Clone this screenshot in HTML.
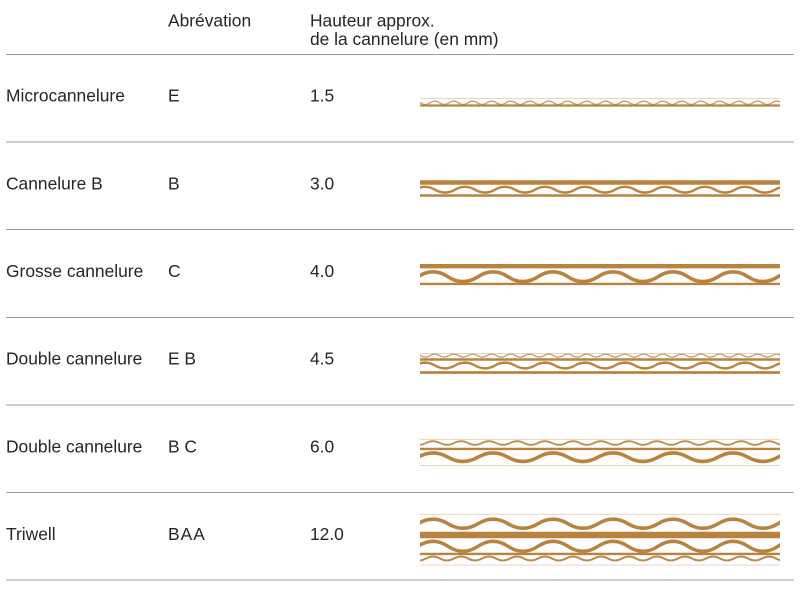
<!DOCTYPE html>
<html>
<head>
<meta charset="utf-8">
<style>
html,body{margin:0;padding:0;background:#fff;}
svg{display:block;}
text{font-family:"Liberation Sans",Arial,sans-serif;font-size:17.4px;fill:#262626;}
</style>
</head>
<body>
<svg width="800" height="600" viewBox="0 0 800 600" xmlns="http://www.w3.org/2000/svg">
<defs>
<clipPath id="cl"><rect x="420" y="0" width="360" height="600"/></clipPath>
</defs>

<!-- header text -->
<text x="168" y="26.7">Abrévation</text>
<text x="310" y="26.7">Hauteur approx.</text>
<text x="310" y="45">de la cannelure (en mm)</text>

<!-- rules -->
<g stroke="#9d9d9d" stroke-width="1">
<line x1="6" y1="54.5" x2="794" y2="54.5"/>
<line x1="6" y1="142" x2="794" y2="142"/>
<line x1="6" y1="229.5" x2="794" y2="229.5"/>
<line x1="6" y1="317.5" x2="794" y2="317.5"/>
<line x1="6" y1="405" x2="794" y2="405"/>
<line x1="6" y1="492.5" x2="794" y2="492.5"/>
<line x1="6" y1="580" x2="794" y2="580"/>
</g>

<!-- row text -->
<text x="6" y="101.7">Microcannelure</text>
<text x="168" y="101.7">E</text>
<text x="310" y="101.7">1.5</text>

<text x="6" y="189.4">Cannelure B</text>
<text x="168" y="189.4">B</text>
<text x="310" y="189.4">3.0</text>

<text x="6" y="277">Grosse cannelure</text>
<text x="168" y="277">C</text>
<text x="310" y="277">4.0</text>

<text x="6" y="364.7">Double cannelure</text>
<text x="168" y="364.7">E B</text>
<text x="310" y="364.7">4.5</text>

<text x="6" y="452.4">Double cannelure</text>
<text x="168" y="452.4">B C</text>
<text x="310" y="452.4">6.0</text>

<text x="6" y="540">Triwell</text>
<text x="168" y="540" letter-spacing="1">BAA</text>
<text x="310" y="540">12.0</text>

<!-- corrugations -->
<g clip-path="url(#cl)" fill="none">
  <!-- E row -->
  <line x1="420" y1="98.5" x2="780" y2="98.5" stroke="#e8d6bf" stroke-width="1"/>
  <path d="M411 102.8 q4.75 -3.4 9.5 0 t9.5 0 t9.5 0 t9.5 0 t9.5 0 t9.5 0 t9.5 0 t9.5 0 t9.5 0 t9.5 0 t9.5 0 t9.5 0 t9.5 0 t9.5 0 t9.5 0 t9.5 0 t9.5 0 t9.5 0 t9.5 0 t9.5 0 t9.5 0 t9.5 0 t9.5 0 t9.5 0 t9.5 0 t9.5 0 t9.5 0 t9.5 0 t9.5 0 t9.5 0 t9.5 0 t9.5 0 t9.5 0 t9.5 0 t9.5 0 t9.5 0 t9.5 0 t9.5 0 t9.5 0 t9.5 0" stroke="#c49d70" stroke-width="1.3"/>
  <line x1="420" y1="105.5" x2="780" y2="105.5" stroke="#b9833f" stroke-width="2.3"/>

  <!-- B row -->
  <line x1="420" y1="182.5" x2="780" y2="182.5" stroke="#b9833f" stroke-width="4.6"/>
  <path d="M375 189.7 q10 -5.8 20 0 t20 0 t20 0 t20 0 t20 0 t20 0 t20 0 t20 0 t20 0 t20 0 t20 0 t20 0 t20 0 t20 0 t20 0 t20 0 t20 0 t20 0 t20 0 t20 0 t20 0 t20 0" stroke="#b9833f" stroke-width="2.4"/>
  <line x1="420" y1="195.5" x2="780" y2="195.5" stroke="#b9833f" stroke-width="2.4"/>

  <!-- C row -->
  <line x1="420" y1="266.2" x2="780" y2="266.2" stroke="#b9833f" stroke-width="4.4"/>
  <path d="M358 276.7 q15 -9.8 30 0 t30 0 t30 0 t30 0 t30 0 t30 0 t30 0 t30 0 t30 0 t30 0 t30 0 t30 0 t30 0 t30 0 t30 0 t30 0" stroke="#b9833f" stroke-width="3.6"/>
  <line x1="420" y1="283.9" x2="780" y2="283.9" stroke="#b9833f" stroke-width="2.4"/>

  <!-- EB row -->
  <line x1="420" y1="353.5" x2="780" y2="353.5" stroke="#e8d6bf" stroke-width="1"/>
  <path d="M411 355.6 q4.75 -3 9.5 0 t9.5 0 t9.5 0 t9.5 0 t9.5 0 t9.5 0 t9.5 0 t9.5 0 t9.5 0 t9.5 0 t9.5 0 t9.5 0 t9.5 0 t9.5 0 t9.5 0 t9.5 0 t9.5 0 t9.5 0 t9.5 0 t9.5 0 t9.5 0 t9.5 0 t9.5 0 t9.5 0 t9.5 0 t9.5 0 t9.5 0 t9.5 0 t9.5 0 t9.5 0 t9.5 0 t9.5 0 t9.5 0 t9.5 0 t9.5 0 t9.5 0 t9.5 0 t9.5 0 t9.5 0 t9.5 0" stroke="#c49d70" stroke-width="1.3"/>
  <line x1="420" y1="359.5" x2="780" y2="359.5" stroke="#b9833f" stroke-width="2.4"/>
  <path d="M375 365.5 q10 -5.8 20 0 t20 0 t20 0 t20 0 t20 0 t20 0 t20 0 t20 0 t20 0 t20 0 t20 0 t20 0 t20 0 t20 0 t20 0 t20 0 t20 0 t20 0 t20 0 t20 0 t20 0 t20 0" stroke="#b9833f" stroke-width="2.4"/>
  <line x1="420" y1="372.5" x2="780" y2="372.5" stroke="#b9833f" stroke-width="2.8"/>

  <!-- BC row -->
  <line x1="420" y1="439.4" x2="780" y2="439.4" stroke="#e8d6bf" stroke-width="1"/>
  <path d="M398 443 q7 -3.8 14 0 t14 0 t14 0 t14 0 t14 0 t14 0 t14 0 t14 0 t14 0 t14 0 t14 0 t14 0 t14 0 t14 0 t14 0 t14 0 t14 0 t14 0 t14 0 t14 0 t14 0 t14 0 t14 0 t14 0 t14 0 t14 0 t14 0 t14 0 t14 0" stroke="#bd8a4c" stroke-width="1.8"/>
  <line x1="420" y1="448.9" x2="780" y2="448.9" stroke="#b9833f" stroke-width="2.4"/>
  <path d="M358 457.2 q15 -8.6 30 0 t30 0 t30 0 t30 0 t30 0 t30 0 t30 0 t30 0 t30 0 t30 0 t30 0 t30 0 t30 0 t30 0 t30 0 t30 0" stroke="#b9833f" stroke-width="3.6"/>
  <line x1="420" y1="465.5" x2="780" y2="465.5" stroke="#e8d6bf" stroke-width="1"/>

  <!-- BAA row -->
  <line x1="420" y1="514.4" x2="780" y2="514.4" stroke="#e8d6bf" stroke-width="1"/>
  <path d="M358 523.7 q15 -9 30 0 t30 0 t30 0 t30 0 t30 0 t30 0 t30 0 t30 0 t30 0 t30 0 t30 0 t30 0 t30 0 t30 0 t30 0 t30 0" stroke="#b9833f" stroke-width="3.5"/>
  <line x1="420" y1="535" x2="780" y2="535" stroke="#b9833f" stroke-width="6.6"/>
  <path d="M358 546.3 q15 -10 30 0 t30 0 t30 0 t30 0 t30 0 t30 0 t30 0 t30 0 t30 0 t30 0 t30 0 t30 0 t30 0 t30 0 t30 0 t30 0" stroke="#b9833f" stroke-width="3.5"/>
  <line x1="420" y1="553.9" x2="780" y2="553.9" stroke="#b9833f" stroke-width="2.4"/>
  <path d="M398 558.5 q7 -4 14 0 t14 0 t14 0 t14 0 t14 0 t14 0 t14 0 t14 0 t14 0 t14 0 t14 0 t14 0 t14 0 t14 0 t14 0 t14 0 t14 0 t14 0 t14 0 t14 0 t14 0 t14 0 t14 0 t14 0 t14 0 t14 0 t14 0 t14 0 t14 0" stroke="#bd8a4c" stroke-width="2"/>
  <line x1="420" y1="565" x2="780" y2="565" stroke="#e8d6bf" stroke-width="1"/>
</g>
</svg>
</body>
</html>
